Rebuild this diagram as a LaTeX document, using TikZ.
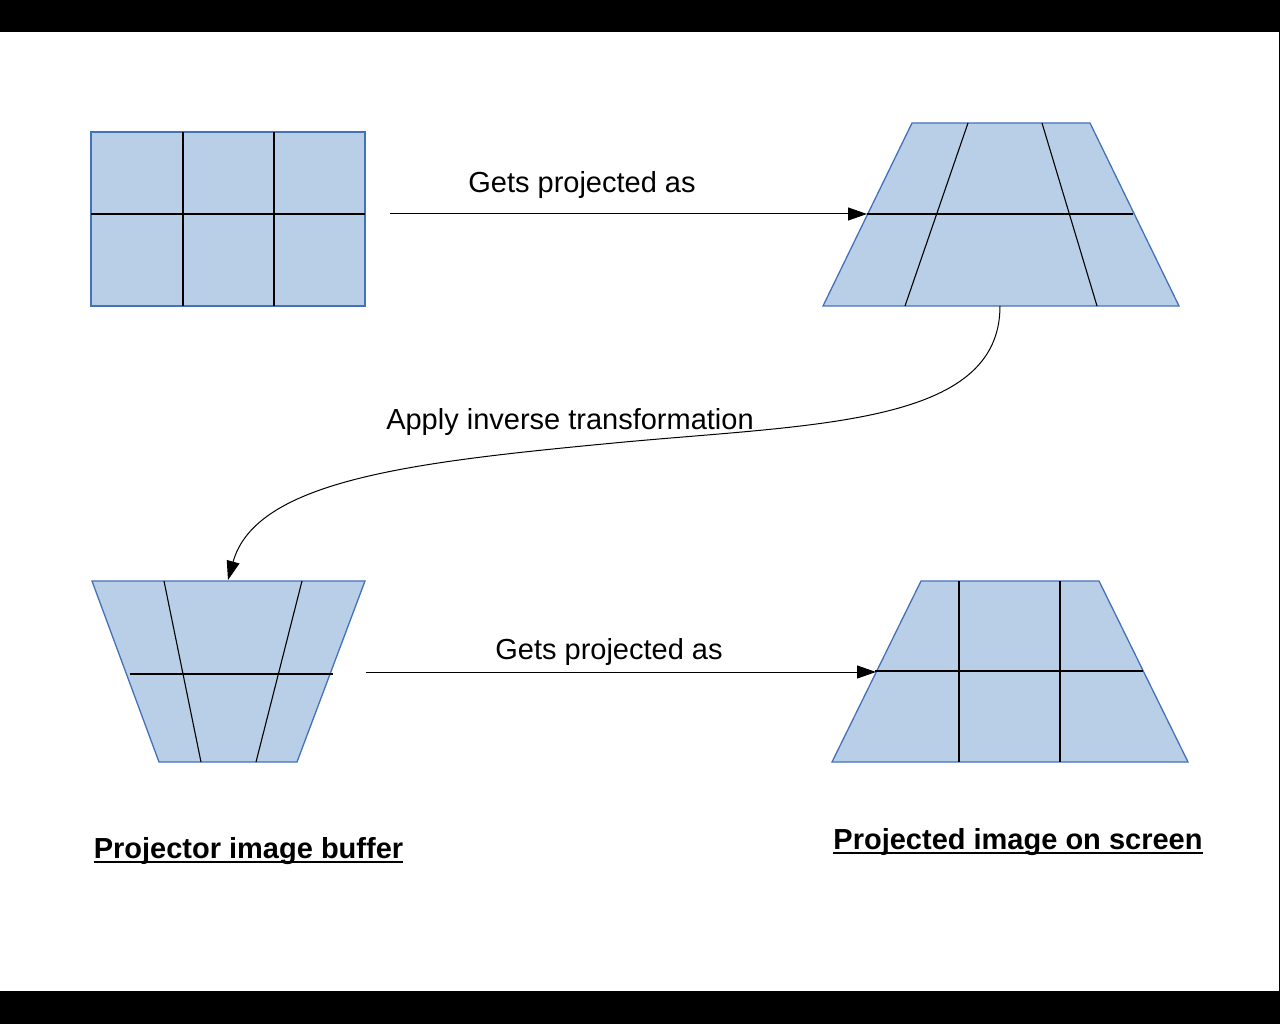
\documentclass[tikz,border=0pt]{standalone}
\usepackage{fontspec}
\setmainfont{Liberation Sans}
\usetikzlibrary{arrows.meta}
\definecolor{cellfill}{RGB}{185,206,231}
\definecolor{celledge}{RGB}{68,114,186}

\begin{document}
\begin{tikzpicture}[x=1pt, y=-1pt, >={Triangle[length=19pt, width=13pt]},
  every node/.style={font=\fontsize{29}{35}\selectfont, inner sep=0pt},
  panel/.style={fill=cellfill, draw=celledge, line width=1.3pt},
  grid/.style={draw=black, line width=1.1pt},
  link/.style={->, line width=1pt, black}]

% Page frame
\useasboundingbox (0,0) rectangle (1280,1024);
\fill[black] (0,0) rectangle (1280,32);
\fill[black] (0,991) rectangle (1280,1024);
\fill[black] (1279,32) rectangle (1280,991);

% Image buffer (top left)
\draw[panel] (91,132) rectangle (365,306);
\draw[grid] (183,132) -- (183,306);
\draw[grid] (274,132) -- (274,306);
\draw[grid] (91,214) -- (365,214);

% Keystoned projection (top right)
\draw[panel] (912,123) -- (1090,123) -- (1179,306) -- (823,306) -- cycle;
\draw[grid] (968,123) -- (905,306);
\draw[grid] (1042,123) -- (1097,306);
\draw[grid] (867,214) -- (1133,214);

% Pre-warped buffer (bottom left)
\draw[panel] (92,581) -- (365,581) -- (297,762) -- (159,762) -- cycle;
\draw[grid] (164,581) -- (201,762);
\draw[grid] (302,581) -- (256,762);
\draw[grid] (130,674) -- (333,674);

% Corrected projection (bottom right)
\draw[panel] (921,581) -- (1099,581) -- (1188,762) -- (832,762) -- cycle;
\draw[grid] (959,581) -- (959,762);
\draw[grid] (1060,581) -- (1060,762);
\draw[grid] (875,671) -- (1143,671);

% Connector ends
\coordinate (srcout) at (390,214);
\coordinate (keyin) at (867,214);
\coordinate (keyout) at (1000,306);
\coordinate (bend) at (614,443);
\coordinate (warpin) at (228,580);
\coordinate (warpout) at (366,672);
\coordinate (fixin) at (876,672);

% Arrows
\draw[link] (srcout) -- (keyin);
\draw[link] (keyout) .. controls (1000,426) and (814,424) .. (bend)
  .. controls (414,462) and (256,480) .. (warpin);
\draw[link] (warpout) -- (fixin);

% Labels
\node[anchor=base] (projtop) at (582,193) {Gets projected as};
\node[anchor=base] (inverse) at (570,429) {Apply inverse transformation};
\node[anchor=base] (projbot) at (609,659) {Gets projected as};
\node[anchor=base, font=\fontsize{29}{35}\selectfont\bfseries] (buffer) at (248.5,858) {Projector image buffer};
\node[anchor=base, font=\fontsize{29}{35}\selectfont\bfseries] (screen) at (1018,849) {Projected image on screen};
\draw[line width=2pt] ([yshift=-4pt]buffer.base west) -- ([yshift=-4pt]buffer.base east);
\draw[line width=2pt] ([yshift=-4pt]screen.base west) -- ([yshift=-4pt]screen.base east);

\end{tikzpicture}
\end{document}
